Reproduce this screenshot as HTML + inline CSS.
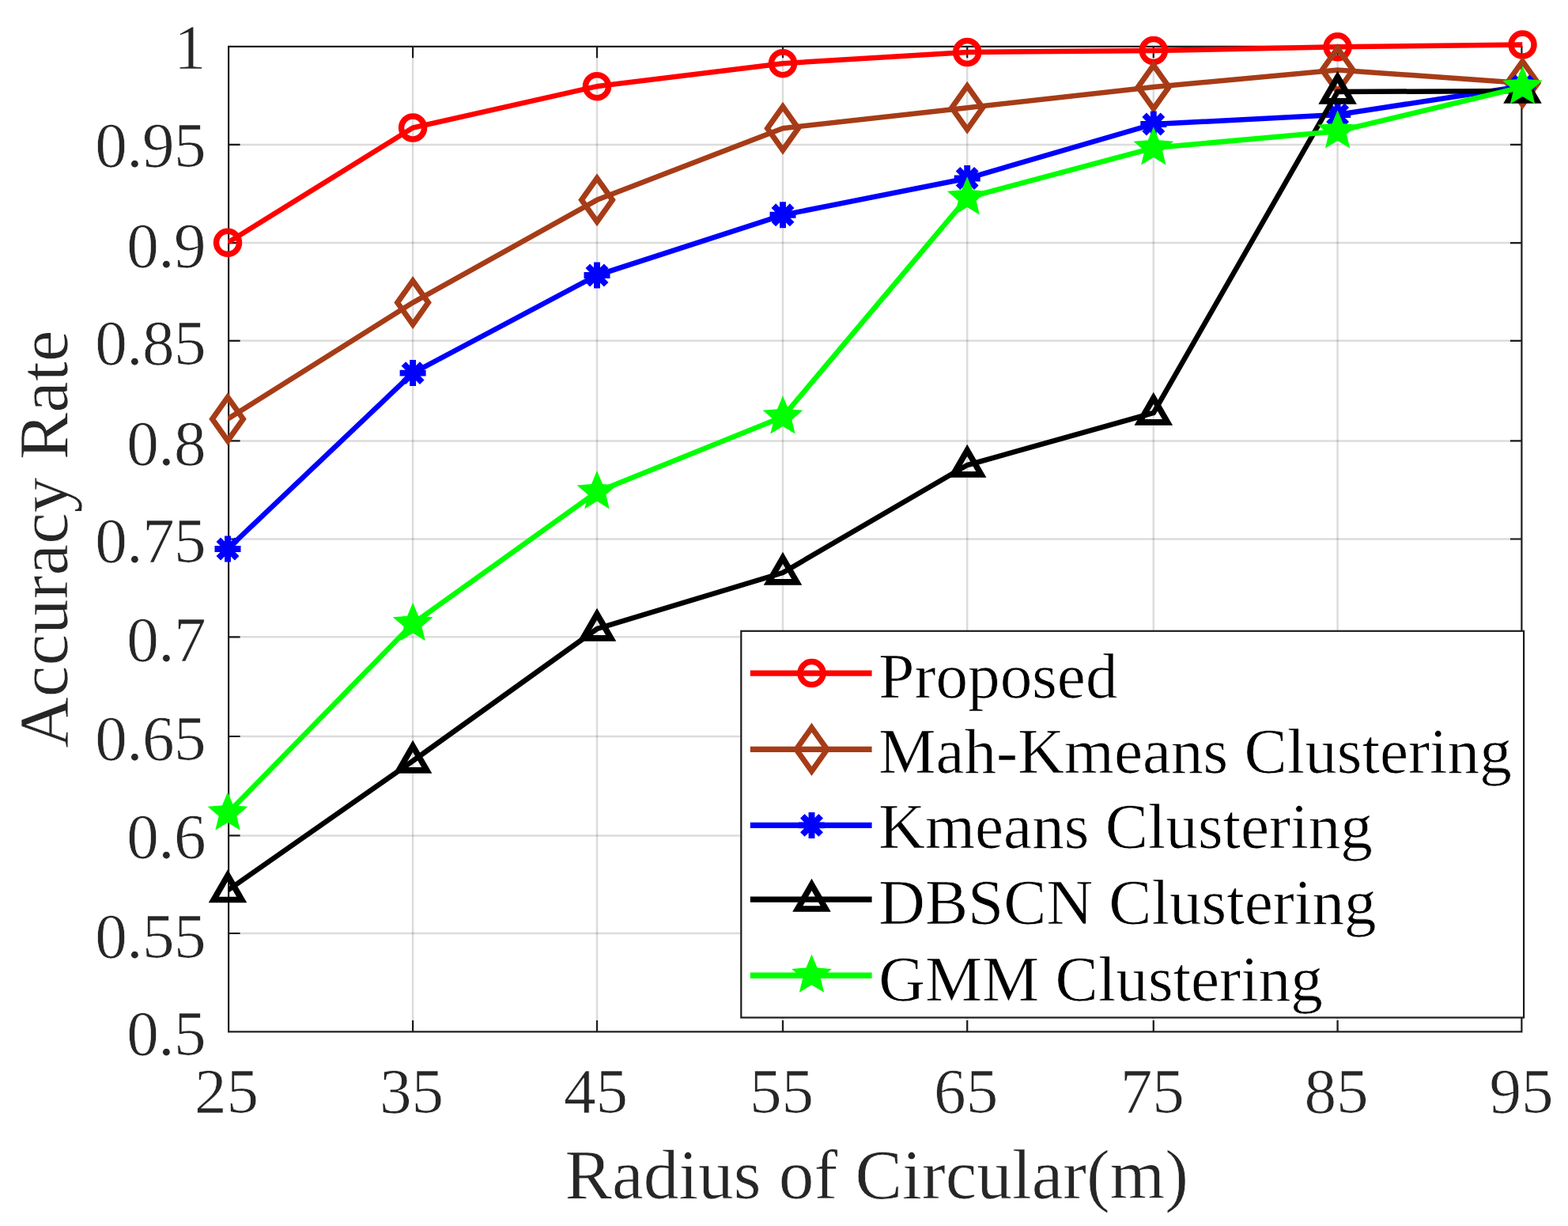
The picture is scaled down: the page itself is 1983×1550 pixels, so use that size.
<!DOCTYPE html>
<html lang="en"><head><meta charset="utf-8"><title>Accuracy Rate vs Radius of Circular</title>
<style>html,body{margin:0;padding:0;background:#fff;overflow:hidden}svg{display:block}text{font-family:"Liberation Serif","Times New Roman",serif;stroke:#fff;stroke-width:0.7px}</style></head><body>
<svg width="1983" height="1550" viewBox="0 0 1983 1550">
<rect width="1983" height="1550" fill="#fff"/>
<path d="M522.1,58.85V1304.4M755,58.85V1304.4M990,58.85V1304.4M1223.2,58.85V1304.4M1458.8,58.85V1304.4M1691.6,58.85V1304.4" stroke="#262626" stroke-opacity="0.16" stroke-width="2.5" fill="none"/>
<path d="M289.1,182.9H1924.4M289.1,307.1H1924.4M289.1,430.8H1924.4M289.1,557.4H1924.4M289.1,681.5H1924.4M289.1,805.3H1924.4M289.1,931H1924.4M289.1,1056.4H1924.4M289.1,1180H1924.4" stroke="#262626" stroke-opacity="0.16" stroke-width="2.5" fill="none"/>
<path d="M522.1,1304.4v-14.5M522.1,58.85v14.5M755,1304.4v-14.5M755,58.85v14.5M990,1304.4v-14.5M990,58.85v14.5M1223.2,1304.4v-14.5M1223.2,58.85v14.5M1458.8,1304.4v-14.5M1458.8,58.85v14.5M1691.6,1304.4v-14.5M1691.6,58.85v14.5M289.1,182.9h14.5M1924.4,182.9h-14.5M289.1,307.1h14.5M1924.4,307.1h-14.5M289.1,430.8h14.5M1924.4,430.8h-14.5M289.1,557.4h14.5M1924.4,557.4h-14.5M289.1,681.5h14.5M1924.4,681.5h-14.5M289.1,805.3h14.5M1924.4,805.3h-14.5M289.1,931h14.5M1924.4,931h-14.5M289.1,1056.4h14.5M1924.4,1056.4h-14.5M289.1,1180h14.5M1924.4,1180h-14.5" stroke="#1c1c1c" stroke-width="2.2" fill="none"/>
<rect x="289.1" y="58.85" width="1635.3" height="1245.55" fill="none" stroke="#1c1c1c" stroke-width="2.2"/>
<text x="260" y="1334.2" font-size="81.2" fill="#262626" text-anchor="end" letter-spacing="-0.6">0.5</text>
<text x="260" y="1210.9" font-size="81.2" fill="#262626" text-anchor="end" letter-spacing="-0.6">0.55</text>
<text x="260" y="1084.7" font-size="81.2" fill="#262626" text-anchor="end" letter-spacing="-0.6">0.6</text>
<text x="260" y="960.6" font-size="81.2" fill="#262626" text-anchor="end" letter-spacing="-0.6">0.65</text>
<text x="260" y="835.8" font-size="81.2" fill="#262626" text-anchor="end" letter-spacing="-0.6">0.7</text>
<text x="260" y="710.7" font-size="81.2" fill="#262626" text-anchor="end" letter-spacing="-0.6">0.75</text>
<text x="260" y="587.5" font-size="81.2" fill="#262626" text-anchor="end" letter-spacing="-0.6">0.8</text>
<text x="260" y="461.3" font-size="81.2" fill="#262626" text-anchor="end" letter-spacing="-0.6">0.85</text>
<text x="260" y="337.6" font-size="81.2" fill="#262626" text-anchor="end" letter-spacing="-0.6">0.9</text>
<text x="260" y="211.2" font-size="81.2" fill="#262626" text-anchor="end" letter-spacing="-0.6">0.95</text>
<text x="260" y="86.6" font-size="81.2" fill="#262626" text-anchor="end" letter-spacing="-0.6">1</text>
<text x="286.5" y="1407" font-size="81.2" fill="#262626" text-anchor="middle">25</text>
<text x="520.6" y="1407" font-size="81.2" fill="#262626" text-anchor="middle">35</text>
<text x="753.5" y="1407" font-size="81.2" fill="#262626" text-anchor="middle">45</text>
<text x="988.5" y="1407" font-size="81.2" fill="#262626" text-anchor="middle">55</text>
<text x="1221.7" y="1407" font-size="81.2" fill="#262626" text-anchor="middle">65</text>
<text x="1457.3" y="1407" font-size="81.2" fill="#262626" text-anchor="middle">75</text>
<text x="1690.1" y="1407" font-size="81.2" fill="#262626" text-anchor="middle">85</text>
<text x="1924" y="1407" font-size="81.2" fill="#262626" text-anchor="middle">95</text>
<text x="1108.75" y="1514.6" font-size="89.3" fill="#262626" text-anchor="middle">Radius of Circular(m)</text>
<text transform="translate(84.6,681.62) rotate(-90)" font-size="89.3" fill="#262626" text-anchor="middle">Accuracy Rate</text>
<clipPath id="c"><rect x="288" y="40" width="1637.6" height="1280"/></clipPath>
<polyline clip-path="url(#c)" points="288,306.8 522.1,161.5 755,109.2 990,80.2 1223.2,66 1458.8,64 1691.6,59.3 1925.5,56.6" fill="none" stroke="#ff0000" stroke-width="6.5" stroke-linejoin="miter"/>
<circle cx="288" cy="306.8" r="14.5" fill="none" stroke="#ff0000" stroke-width="7.5"/>
<circle cx="522.1" cy="161.5" r="14.5" fill="none" stroke="#ff0000" stroke-width="7.5"/>
<circle cx="755" cy="109.2" r="14.5" fill="none" stroke="#ff0000" stroke-width="7.5"/>
<circle cx="990" cy="80.2" r="14.5" fill="none" stroke="#ff0000" stroke-width="7.5"/>
<circle cx="1223.2" cy="66" r="14.5" fill="none" stroke="#ff0000" stroke-width="7.5"/>
<circle cx="1458.8" cy="64" r="14.5" fill="none" stroke="#ff0000" stroke-width="7.5"/>
<circle cx="1691.6" cy="59.3" r="14.5" fill="none" stroke="#ff0000" stroke-width="7.5"/>
<circle cx="1925.5" cy="56.6" r="14.5" fill="none" stroke="#ff0000" stroke-width="7.5"/>
<polyline clip-path="url(#c)" points="288,529.7 522.1,382.6 755,252.8 990,162.2 1223.2,136.3 1458.8,110 1691.6,88.5 1925.5,105" fill="none" stroke="#a63c17" stroke-width="6.5" stroke-linejoin="miter"/>
<polygon points="288,502.2 307.5,529.7 288,557.2 268.5,529.7" fill="none" stroke="#a63c17" stroke-width="7" stroke-linejoin="miter"/>
<polygon points="522.1,355.1 541.6,382.6 522.1,410.1 502.6,382.6" fill="none" stroke="#a63c17" stroke-width="7" stroke-linejoin="miter"/>
<polygon points="755,225.3 774.5,252.8 755,280.3 735.5,252.8" fill="none" stroke="#a63c17" stroke-width="7" stroke-linejoin="miter"/>
<polygon points="990,134.7 1009.5,162.2 990,189.7 970.5,162.2" fill="none" stroke="#a63c17" stroke-width="7" stroke-linejoin="miter"/>
<polygon points="1223.2,108.8 1242.7,136.3 1223.2,163.8 1203.7,136.3" fill="none" stroke="#a63c17" stroke-width="7" stroke-linejoin="miter"/>
<polygon points="1458.8,82.5 1478.3,110 1458.8,137.5 1439.3,110" fill="none" stroke="#a63c17" stroke-width="7" stroke-linejoin="miter"/>
<polygon points="1691.6,61 1711.1,88.5 1691.6,116 1672.1,88.5" fill="none" stroke="#a63c17" stroke-width="7" stroke-linejoin="miter"/>
<polygon points="1925.5,77.5 1945,105 1925.5,132.5 1906,105" fill="none" stroke="#a63c17" stroke-width="7" stroke-linejoin="miter"/>
<polyline clip-path="url(#c)" points="288,694 522.1,471.6 755,348 990,271.8 1223.2,225.5 1458.8,157 1691.6,145 1925.5,109" fill="none" stroke="#0000ff" stroke-width="6.5" stroke-linejoin="miter"/>
<path d="M271.5,694L304.5,694M276.33,682.33L299.67,705.67M288,677.5L288,710.5M299.67,682.33L276.33,705.67" fill="none" stroke="#0000ff" stroke-width="7.9"/>
<path d="M505.6,471.6L538.6,471.6M510.43,459.93L533.77,483.27M522.1,455.1L522.1,488.1M533.77,459.93L510.43,483.27" fill="none" stroke="#0000ff" stroke-width="7.9"/>
<path d="M738.5,348L771.5,348M743.33,336.33L766.67,359.67M755,331.5L755,364.5M766.67,336.33L743.33,359.67" fill="none" stroke="#0000ff" stroke-width="7.9"/>
<path d="M973.5,271.8L1006.5,271.8M978.33,260.13L1001.67,283.47M990,255.3L990,288.3M1001.67,260.13L978.33,283.47" fill="none" stroke="#0000ff" stroke-width="7.9"/>
<path d="M1206.7,225.5L1239.7,225.5M1211.53,213.83L1234.87,237.17M1223.2,209L1223.2,242M1234.87,213.83L1211.53,237.17" fill="none" stroke="#0000ff" stroke-width="7.9"/>
<path d="M1442.3,157L1475.3,157M1447.13,145.33L1470.47,168.67M1458.8,140.5L1458.8,173.5M1470.47,145.33L1447.13,168.67" fill="none" stroke="#0000ff" stroke-width="7.9"/>
<path d="M1675.1,145L1708.1,145M1679.93,133.33L1703.27,156.67M1691.6,128.5L1691.6,161.5M1703.27,133.33L1679.93,156.67" fill="none" stroke="#0000ff" stroke-width="7.9"/>
<path d="M1909,109L1942,109M1913.83,97.33L1937.17,120.67M1925.5,92.5L1925.5,125.5M1937.17,97.33L1913.83,120.67" fill="none" stroke="#0000ff" stroke-width="7.9"/>
<polyline clip-path="url(#c)" points="288,1125.6 522.1,962 755,795 990,724 1223.2,588 1458.8,522 1691.6,116 1925.5,115" fill="none" stroke="#000000" stroke-width="6.5" stroke-linejoin="miter"/>
<polygon points="288,1106.9 305.7,1137.5 270.3,1137.5" fill="none" stroke="#000000" stroke-width="7.6" stroke-linejoin="miter"/>
<polygon points="522.1,943.3 539.8,973.9 504.4,973.9" fill="none" stroke="#000000" stroke-width="7.6" stroke-linejoin="miter"/>
<polygon points="755,776.3 772.7,806.9 737.3,806.9" fill="none" stroke="#000000" stroke-width="7.6" stroke-linejoin="miter"/>
<polygon points="990,705.3 1007.7,735.9 972.3,735.9" fill="none" stroke="#000000" stroke-width="7.6" stroke-linejoin="miter"/>
<polygon points="1223.2,569.3 1240.9,599.9 1205.5,599.9" fill="none" stroke="#000000" stroke-width="7.6" stroke-linejoin="miter"/>
<polygon points="1458.8,503.3 1476.5,533.9 1441.1,533.9" fill="none" stroke="#000000" stroke-width="7.6" stroke-linejoin="miter"/>
<polygon points="1691.6,97.3 1709.3,127.9 1673.9,127.9" fill="none" stroke="#000000" stroke-width="7.6" stroke-linejoin="miter"/>
<polygon points="1925.5,96.3 1943.2,126.9 1907.8,126.9" fill="none" stroke="#000000" stroke-width="7.6" stroke-linejoin="miter"/>
<polyline clip-path="url(#c)" points="288,1028 522.1,788.5 755,621.8 990,527 1223.2,250 1458.8,187 1691.6,166 1925.5,110" fill="none" stroke="#00ff00" stroke-width="6.5" stroke-linejoin="miter"/>
<polygon points="288,1001.3 295.05,1018.29 313.39,1019.75 299.41,1031.71 303.69,1049.6 288,1040 272.31,1049.6 276.59,1031.71 262.61,1019.75 280.95,1018.29" fill="#00ff00"/>
<polygon points="522.1,761.8 529.15,778.79 547.49,780.25 533.51,792.21 537.79,810.1 522.1,800.5 506.41,810.1 510.69,792.21 496.71,780.25 515.05,778.79" fill="#00ff00"/>
<polygon points="755,595.1 762.05,612.09 780.39,613.55 766.41,625.51 770.69,643.4 755,633.8 739.31,643.4 743.59,625.51 729.61,613.55 747.95,612.09" fill="#00ff00"/>
<polygon points="990,500.3 997.05,517.29 1015.39,518.75 1001.41,530.71 1005.69,548.6 990,539 974.31,548.6 978.59,530.71 964.61,518.75 982.95,517.29" fill="#00ff00"/>
<polygon points="1223.2,223.3 1230.25,240.29 1248.59,241.75 1234.61,253.71 1238.89,271.6 1223.2,262 1207.51,271.6 1211.79,253.71 1197.81,241.75 1216.15,240.29" fill="#00ff00"/>
<polygon points="1458.8,160.3 1465.85,177.29 1484.19,178.75 1470.21,190.71 1474.49,208.6 1458.8,199 1443.11,208.6 1447.39,190.71 1433.41,178.75 1451.75,177.29" fill="#00ff00"/>
<polygon points="1691.6,139.3 1698.65,156.29 1716.99,157.75 1703.01,169.71 1707.29,187.6 1691.6,178 1675.91,187.6 1680.19,169.71 1666.21,157.75 1684.55,156.29" fill="#00ff00"/>
<polygon points="1925.5,83.3 1932.55,100.29 1950.89,101.75 1936.91,113.71 1941.19,131.6 1925.5,122 1909.81,131.6 1914.09,113.71 1900.11,101.75 1918.45,100.29" fill="#00ff00"/>
<rect x="937.3" y="797.8" width="989.8" height="488.7" fill="#fff" stroke="#1c1c1c" stroke-width="2.2"/>
<path d="M948.8,851.1H1102.6" stroke="#ff0000" stroke-width="7.4" fill="none"/>
<circle cx="1026.5" cy="851.1" r="14.5" fill="none" stroke="#ff0000" stroke-width="7.5"/>
<text x="1111.3" y="882.4" font-size="81.2" fill="#000">Proposed</text>
<path d="M948.8,947.4H1102.6" stroke="#a63c17" stroke-width="7.4" fill="none"/>
<polygon points="1026.5,919.9 1046,947.4 1026.5,974.9 1007,947.4" fill="none" stroke="#a63c17" stroke-width="7" stroke-linejoin="miter"/>
<text x="1111.3" y="976.8" font-size="81.2" fill="#000">Mah-Kmeans Clustering</text>
<path d="M948.8,1043.4H1102.6" stroke="#0000ff" stroke-width="7.4" fill="none"/>
<path d="M1010,1043.4L1043,1043.4M1014.83,1031.73L1038.17,1055.07M1026.5,1026.9L1026.5,1059.9M1038.17,1031.73L1014.83,1055.07" fill="none" stroke="#0000ff" stroke-width="7.9"/>
<text x="1111.3" y="1072.4" font-size="81.2" fill="#000">Kmeans Clustering</text>
<path d="M948.8,1137.1H1102.6" stroke="#000000" stroke-width="7.4" fill="none"/>
<polygon points="1026.5,1118.4 1044.2,1149 1008.8,1149" fill="none" stroke="#000000" stroke-width="7.6" stroke-linejoin="miter"/>
<text x="1111.3" y="1168.4" font-size="81.2" fill="#000">DBSCN Clustering</text>
<path d="M948.8,1233.2H1102.6" stroke="#00ff00" stroke-width="7.4" fill="none"/>
<polygon points="1026.5,1206.5 1033.55,1223.49 1051.89,1224.95 1037.91,1236.91 1042.19,1254.8 1026.5,1245.2 1010.81,1254.8 1015.09,1236.91 1001.11,1224.95 1019.45,1223.49" fill="#00ff00"/>
<text x="1111.3" y="1264.9" font-size="81.2" fill="#000">GMM Clustering</text>
</svg></body></html>
